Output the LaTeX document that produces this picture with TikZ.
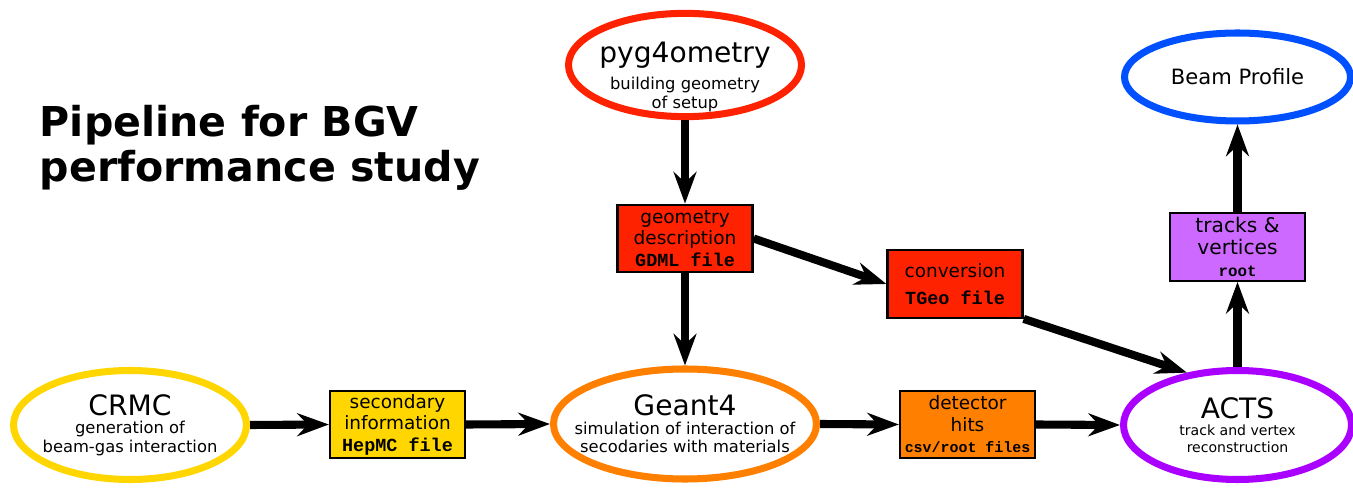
\documentclass[tikz,border=0pt]{standalone}
\usepackage{fontspec}
\setmainfont{DejaVu Sans}
\setmonofont{Liberation Mono}
\definecolor{GeoRed}{RGB}{255, 34, 0}
\definecolor{GenYellow}{RGB}{255, 214, 0}
\definecolor{SimOrange}{RGB}{255, 128, 0}
\definecolor{RecoPurple}{RGB}{170, 0, 255}
\definecolor{TrackViolet}{RGB}{205, 105, 255}
\definecolor{ProfileBlue}{RGB}{0, 80, 255}
\usetikzlibrary{arrows.meta, positioning, shapes.geometric}
\newcommand{\stagetitle}[1]{{\fontsize{16}{19}\selectfont #1}}
\newcommand{\filetype}[1]{{\ttfamily\bfseries #1}}

\begin{document}
\begin{tikzpicture}
        % --- Styles ---
        \tikzstyle{stage}=[ellipse, line width=4pt, fill=white, align=center, inner xsep=-0.5cm, inner ysep=-0.2cm, font=\fontsize{9.3}{10.5}\selectfont]
        \tikzstyle{datafile}=[rectangle, draw=black, line width=1.3pt, minimum width=2.7cm, minimum height=1.35cm, inner sep=1pt, align=center, font=\fontsize{10.5}{12.2}\selectfont]
        \tikzstyle{flow}=[-{Stealth[length=18pt, width=13pt, inset=6pt]}, line width=4.6pt, black]

        \useasboundingbox (0,0) rectangle (27.06,9.76);

        % --- 1. Title ---
        \node[anchor=north west, align=left, inner sep=0pt, font=\fontsize{23.4}{25.5}\selectfont\bfseries] (title) at (0.79,7.66) {Pipeline for BGV\\performance study};

        % --- 2. Stages ---
        \node[stage, draw=GeoRed, minimum width=4.66cm, minimum height=1.78cm] (pyg) at (13.7,8.46) {\rule{0pt}{25pt}\stagetitle{pyg4ometry}\\[5pt]building geometry\\of setup};
        \node[stage, draw=GenYellow, minimum width=4.66cm, minimum height=2.18cm] (crmc) at (2.6,1.26) {\stagetitle{CRMC}\\generation of\\beam-gas interaction};
        \node[stage, draw=SimOrange, minimum width=5.26cm, minimum height=2.2cm] (geant) at (13.7,1.28) {\stagetitle{Geant4}\\simulation of interaction of\\secodaries with materials};
        \node[stage, draw=RecoPurple, minimum width=4.56cm, minimum height=2.18cm, font=\fontsize{8}{9.5}\selectfont] (acts) at (24.75,1.26) {\stagetitle{ACTS}\\track and vertex\\reconstruction};
        \node[stage, draw=ProfileBlue, minimum width=4.52cm, minimum height=1.76cm, font=\fontsize{12}{14}\selectfont] (beam) at (24.75,8.22) {Beam Profile};

        % --- 3. Data files ---
        \node[datafile, fill=GeoRed] (geom) at (13.7,4.99) {geometry\\description\\\filetype{GDML file}};
        \node[datafile, fill=GeoRed] (conv) at (19.1,4.08) {conversion\\[3pt]\filetype{TGeo file}};
        \node[datafile, fill=GenYellow] (sec) at (7.95,1.27) {secondary\\information\\\filetype{HepMC file}};
        \node[datafile, fill=SimOrange] (det) at (19.35,1.27) {detector\\hits\\{\fontsize{8.5}{10}\selectfont\filetype{csv/root files}}};
        \node[datafile, fill=TrackViolet, font=\fontsize{11.5}{12.5}\selectfont] (tracks) at (24.75,4.82) {tracks \&\\vertices\\{\fontsize{9}{10}\selectfont\filetype{root}}};

        % --- 4. Flow ---
        \draw[flow] (pyg.south) -- (geom.north);
        \draw[flow] (geom.south) -- (geant.north);
        \draw[flow] (geom.east) -- (conv.west);
        \draw[flow] (conv.south east) -- (acts.134);
        \draw[flow] (crmc.east) -- (sec.west);
        \draw[flow] (sec.east) -- (geant.west);
        \draw[flow] (geant.east) -- (det.west);
        \draw[flow] (det.east) -- (acts.west);
        \draw[flow] (acts.north) -- (tracks.south);
        \draw[flow] (tracks.north) -- (beam.south);

    \end{tikzpicture}
\end{document}
